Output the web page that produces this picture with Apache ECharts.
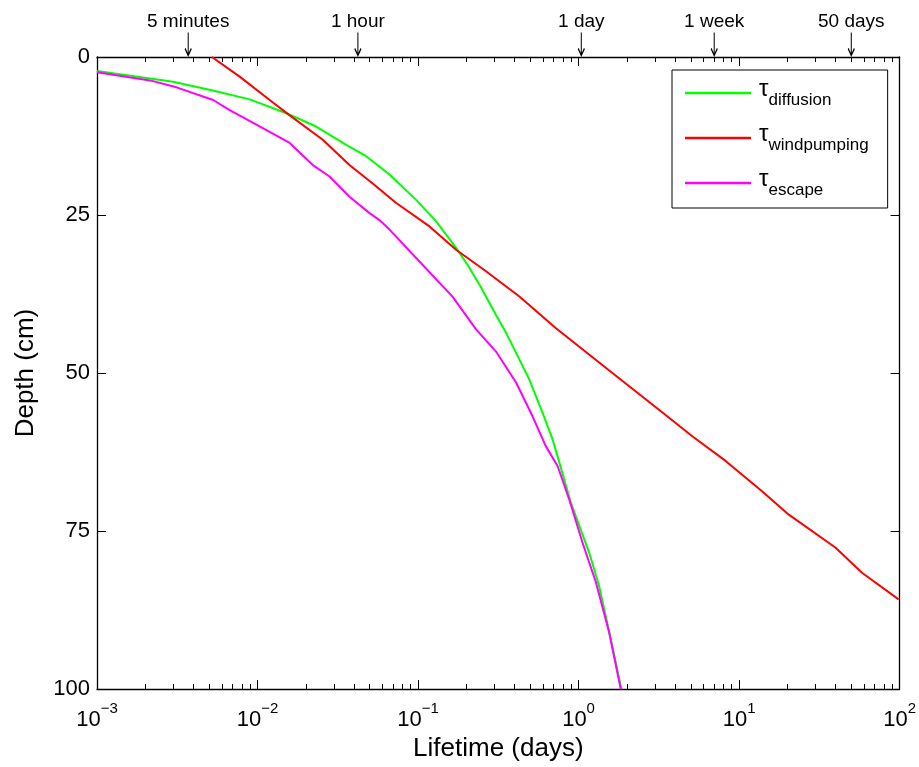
<!DOCTYPE html>
<html>
<head>
<meta charset="utf-8">
<script src="https://cdn.jsdelivr.net/npm/echarts@6/dist/echarts.min.js"></script>
<style>html,body{margin:0;padding:0;background:#fff}#c{width:919px;height:767px}</style>
</head>
<body>
<div id="c"></div>
<script>
// Lifetime (days) vs depth (cm)
var diffusion = [[0.001,2.2],[0.00298,3.9],[0.00526,5.3],[0.00894,6.7],[0.01514,8.9],[0.0232,11.0],[0.0357,13.9],[0.0475,15.7],[0.0664,18.6],[0.0973,22.6],[0.1297,26.0],[0.1726,30.2],[0.2038,32.9],[0.241,36.0],[0.306,40.8],[0.353,43.6],[0.408,46.8],[0.493,51.0],[0.597,56.3],[0.689,60.5],[0.75,63.7],[0.895,70.5],[1.164,78.4],[1.343,83.7],[1.588,92.1],[1.849,100]];
var windpumping = [[0.0052,0],[0.00774,3.1],[0.0119,6.8],[0.0158,9.2],[0.0255,13.1],[0.0374,17.1],[0.0522,20.0],[0.0731,23.1],[0.1178,26.8],[0.1726,30.5],[0.265,33.9],[0.428,37.9],[0.723,42.9],[1.625,50.0],[3.17,55.8],[5.11,60.0],[8.24,63.9],[13.9,68.7],[20.4,72.4],[39.8,77.6],[58.3,81.6],[98.6,85.8]];
var escape = [[0.001,2.4],[0.00214,3.7],[0.00313,4.8],[0.00529,6.8],[0.00671,8.4],[0.00984,10.7],[0.01585,13.6],[0.0221,17.1],[0.0281,18.9],[0.0374,22.1],[0.0499,24.7],[0.0575,25.8],[0.0664,27.3],[0.107,32.9],[0.164,37.9],[0.230,43.1],[0.306,46.6],[0.408,51.5],[0.516,56.8],[0.626,61.6],[0.740,64.7],[0.875,70.0],[1.058,76.8],[1.282,83.1],[1.550,91.0],[1.832,100]];
var markerNames = ['5 minutes','1 hour','1 day','1 week','50 days'];
var markerValues = [0.0037, 0.0422, 1.04, 7, 50];
var xMin = 0.001, xMax = 100;
var yTicks = [0, 25, 50, 75, 100];

var minorTicks = [];
for (var e = -3; e < 2; e++) {
  for (var m = 2; m <= 9; m++) minorTicks.push(m * Math.pow(10, e));
}

var FONT = 'Liberation Sans';
var chart = echarts.init(document.getElementById('c'), null, {renderer: 'canvas'});

function baseLogAxis(pos) {
  return {
    type: 'log', logBase: 10, min: xMin, max: xMax, position: pos,
    axisLine: {show: true, onZero: false, lineStyle: {color: '#000', width: 1.3}},
    axisTick: {show: true, inside: true, length: 9, lineStyle: {color: '#000', width: 1}},
    axisLabel: {show: false},
    splitLine: {show: false}, minorTick: {show: false}, minorSplitLine: {show: false}
  };
}
var xBottom = baseLogAxis('bottom');
xBottom.axisLabel = {
  show: true, margin: 12, color: '#000',
  formatter: function (v) {
    var ex = Math.round(Math.log10(v));
    return '{b|10}{e|' + (ex < 0 ? '\u2212' + (-ex) : ex) + '}';
  },
  rich: {
    b: {fontSize: 22, fontFamily: FONT, color: '#000', verticalAlign: 'bottom', lineHeight: 30},
    e: {fontSize: 15, fontFamily: FONT, color: '#000', verticalAlign: 'top', lineHeight: 30}
  }
};
xBottom.name = 'Lifetime (days)';
xBottom.nameLocation = 'middle';
xBottom.nameGap = 44;
xBottom.nameTextStyle = {fontSize: 26, fontFamily: FONT, color: '#000'};

function minorAxis(pos) {
  var a = baseLogAxis(pos);
  a.axisLine = {show: false, onZero: false};
  a.axisTick = {show: true, inside: true, length: 5, customValues: minorTicks, lineStyle: {color: '#000', width: 1}};
  return a;
}
var xBottomMinor = minorAxis('bottom');
var xTop = baseLogAxis('top');
var xTopMinor = minorAxis('top');

function yAxis(pos, labels) {
  return {
    type: 'value', inverse: true, min: 0, max: 100, interval: 25, position: pos,
    axisLine: {show: true, onZero: false, lineStyle: {color: '#000', width: 1.3}},
    axisTick: {show: true, inside: true, length: 9, lineStyle: {color: '#000', width: 1}},
    axisLabel: {show: labels, margin: 7, fontSize: 22, fontFamily: FONT, color: '#000',
      formatter: function (v) { return yTicks.indexOf(v) >= 0 ? String(v) : ''; }},
    splitLine: {show: false},
    name: labels ? 'Depth (cm)' : '', nameLocation: 'middle', nameGap: 58,
    nameTextStyle: {fontSize: 26, fontFamily: FONT, color: '#000'}
  };
}

var markerData = markerNames.map(function (n, i) { return {name: n, value: [markerValues[i], 0]}; });

function lineSeries(name, data, color) {
  return {
    name: name, type: 'line', data: data, xAxisIndex: 0, yAxisIndex: 0,
    showSymbol: false, symbol: 'none', smooth: false, clip: true,
    lineStyle: {color: color, width: 2}, itemStyle: {color: color},
    emphasis: {disabled: true}, animation: false
  };
}

chart.setOption({
  animation: false,
  backgroundColor: '#fff',
  grid: {left: 97, top: 57, width: 804, height: 633, containLabel: false},
  xAxis: [xBottom, xBottomMinor, xTop, xTopMinor],
  yAxis: [yAxis('left', true), yAxis('right', false)],
  legend: {
    orient: 'vertical', left: 672, top: 70,
    data: ['diffusion', 'windpumping', 'escape'],
    icon: 'rect', itemWidth: 66, itemHeight: 2.5, itemGap: 13,
    padding: [7, 19, 9, 13],
    borderColor: '#000', borderWidth: 1, backgroundColor: '#fff',
    selectedMode: false,
    formatter: function (n) { return '{t|\u03c4}{s|' + n + '}'; },
    textStyle: {
      color: '#000',
      rich: {
        t: {fontSize: 24, fontFamily: FONT, color: '#000', verticalAlign: 'top', lineHeight: 32, padding: [0, 0, 0, 3]},
        s: {fontSize: 17, fontFamily: FONT, color: '#000', verticalAlign: 'bottom', lineHeight: 32}
      }
    }
  },
  series: [
    lineSeries('diffusion', diffusion, '#00ff00'),
    lineSeries('windpumping', windpumping, '#ff0000'),
    lineSeries('escape', escape, '#ff00ff'),
    {
      type: 'scatter', xAxisIndex: 0, yAxisIndex: 0, data: markerData, clip: false,
      symbol: 'path://M6,0 L6,23 M0,16 L6,23 L12,16',
      symbolSize: [12, 23], symbolOffset: [0, -13], symbolKeepAspect: true,
      itemStyle: {color: 'none', borderColor: '#000', borderWidth: 1.4, opacity: 1},
      label: {show: true, position: 'top', distance: -2, formatter: '{b}', fontSize: 19, fontFamily: FONT, color: '#000'},
      emphasis: {disabled: true}, silent: true, z: 5
    }
  ]
});
</script>
</body>
</html>
